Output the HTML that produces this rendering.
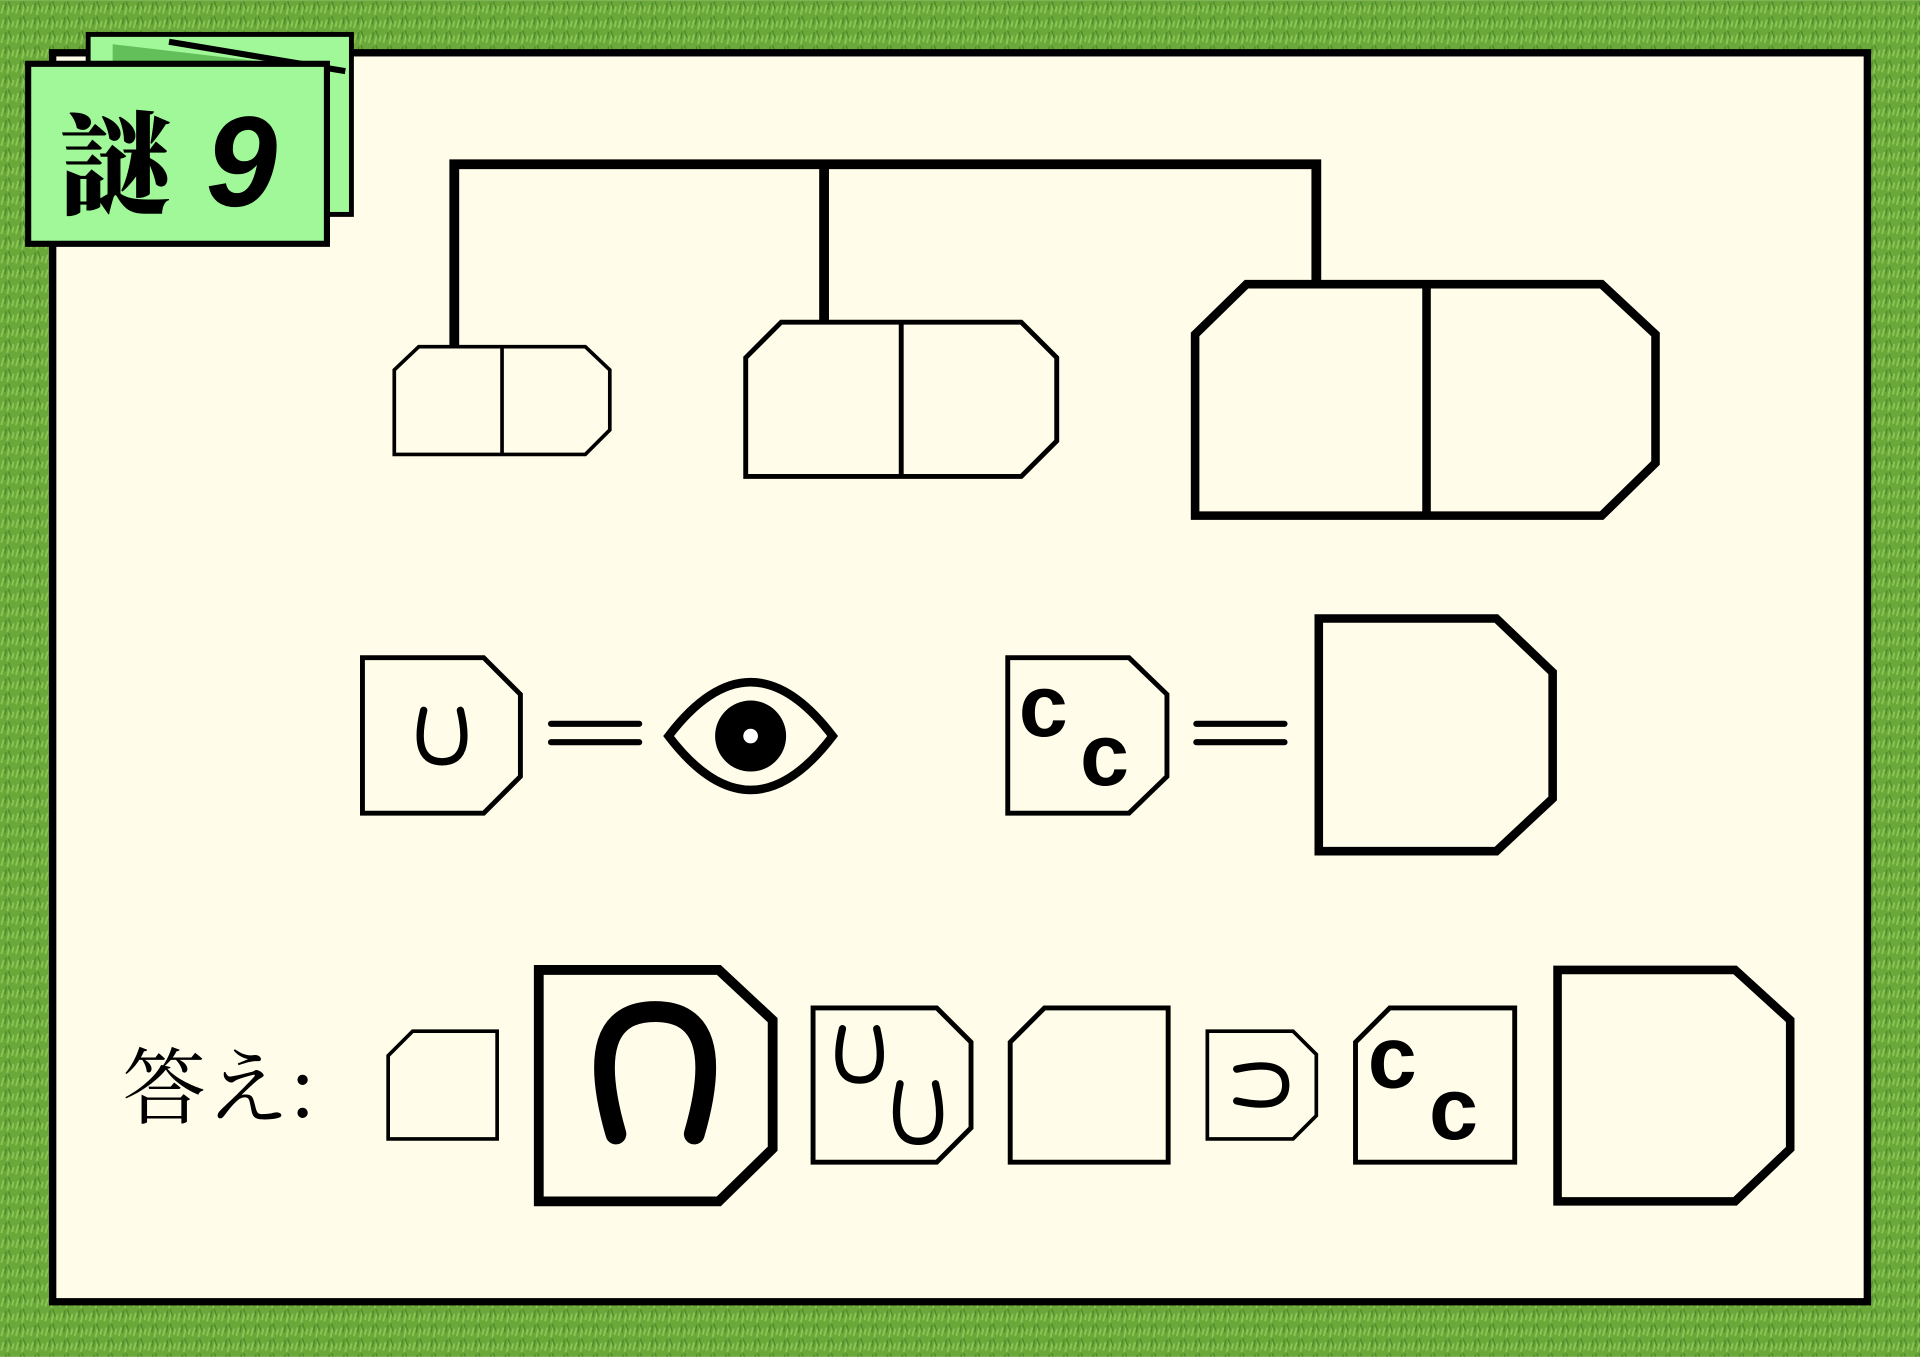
<!DOCTYPE html>
<html><head><meta charset="utf-8"><style>
html,body{margin:0;padding:0;width:1920px;height:1357px;overflow:hidden}
svg{display:block}
</style></head><body>
<svg width="1920" height="1357" viewBox="0 0 1568 1108" xmlns="http://www.w3.org/2000/svg">
<defs>
<pattern id="g" width="12" height="12" patternUnits="userSpaceOnUse">
<rect width="12" height="12" fill="#6aa83a"/>
<path d="M1 11 L3 4 M6 12 L8 3 M10 10 L11 5" stroke="#8cc656" stroke-width="1.5"/>
<path d="M4 8 L5 2 M9 7 L7 1" stroke="#4f8a2a" stroke-width="1.2"/>
</pattern>
</defs>
<rect width="1568" height="1108" fill="url(#g)"/>
<rect x="43" y="43" width="1482" height="1020" fill="#fffce9" stroke="#000" stroke-width="6"/>
<!-- tabs -->
<rect x="72" y="28" width="215" height="147" fill="#a0f898" stroke="#000" stroke-width="4"/>
<polygon points="92,36 280,58 92,58" fill="#62bf5a"/>
<line x1="138" y1="34" x2="282" y2="58" stroke="#000" stroke-width="5"/>
<rect x="23" y="52" width="244" height="147" fill="#a0f898" stroke="#000" stroke-width="5"/>
<text x="48" y="168" font-family="'Noto Serif CJK SC','Noto Sans CJK JP',serif" font-weight="900" font-size="92">謎</text>
<text x="168" y="168" font-family="'Liberation Sans',sans-serif" font-style="italic" font-weight="bold" font-size="105">9</text>
<!-- tree -->
<g stroke="#000" stroke-width="8" fill="none" stroke-linecap="square">
<path d="M371,283 V134 H1075 V232 M673,134 V263"/>
</g>
<g fill="#fffce9" stroke="#000" stroke-linejoin="miter">
<polygon points="322,302 342,283 478,283 498,302 498,351 478,371 322,371" stroke-width="3"/>
<line x1="410" y1="283" x2="410" y2="371" stroke-width="3"/>
<polygon points="609,292 638,263 834,263 863,292 863,360 834,389 609,389" stroke-width="4"/>
<line x1="736" y1="263" x2="736" y2="389" stroke-width="4"/>
<polygon points="976,273 1018,232 1308,232 1352,273 1352,378 1308,421 976,421" stroke-width="7"/>
<line x1="1165" y1="232" x2="1165" y2="421" stroke-width="7"/>
<!-- row 2 -->
<polygon points="296,537 395,537 425,567 425,634 395,664 296,664" stroke-width="4"/>
<polygon points="823,537 922,537 953,567 953,634 922,664 823,664" stroke-width="4"/>
<polygon points="1077,505 1222,505 1268,549 1268,652 1222,695 1077,695" stroke-width="7"/>
<!-- answer row -->
<polygon points="317,862 337,842 406,842 406,930 317,930" stroke-width="3"/>
<polygon points="440,792 587,792 631,833 631,938 587,981 440,981" stroke-width="8"/>
<polygon points="664,823 765,823 793,851 793,921 765,949 664,949" stroke-width="4"/>
<polygon points="825,851 853,823 954,823 954,949 825,949" stroke-width="4"/>
<polygon points="986,842 1056,842 1075,861 1075,911 1056,930 986,930" stroke-width="3"/>
<polygon points="1107,851 1135,823 1237,823 1237,949 1107,949" stroke-width="4"/>
<polygon points="1272,792 1417,792 1462,833 1462,938 1417,981 1272,981" stroke-width="7"/>
</g>
<g stroke="#000" fill="none" stroke-linecap="round">
<path d="M346,580 Q336,622 361,622 Q386,622 376,580" stroke-width="6"/>
<path d="M503,926 Q474,826 535,826 Q596,826 567,926" stroke-width="17"/>
<path d="M688,840 Q678,882 702,882 Q726,882 716,840" stroke-width="6"/>
<path d="M735,885 Q725,932 750,932 Q775,932 764,885" stroke-width="6"/>
<path d="M1010,873 Q1050,864 1050,886 Q1050,908 1010,899" stroke-width="6"/>
<!-- equals -->
<path d="M450,591 H522 M450,606 H522" stroke-width="5"/>
<path d="M977,591 H1049 M977,606 H1049" stroke-width="5"/>
<!-- eye -->
<path d="M546,601 Q613,513 680,601 Q613,689 546,601 Z" stroke-width="7" fill="#fffce9"/>
</g>
<circle cx="613" cy="601" r="29" fill="#000"/>
<circle cx="613" cy="601" r="6" fill="#fff"/>
<g font-family="'Liberation Sans',sans-serif" font-size="72" font-weight="bold" fill="#000">
<text x="832" y="601">c</text>
<text x="882" y="641">c</text>
<text x="1117" y="888">c</text>
<text x="1167" y="930">c</text>
</g>
<text x="100" y="912" font-family="'Noto Serif CJK SC','Noto Sans CJK JP',serif" font-size="68" fill="#000">答え:</text>
</svg>
</body></html>
